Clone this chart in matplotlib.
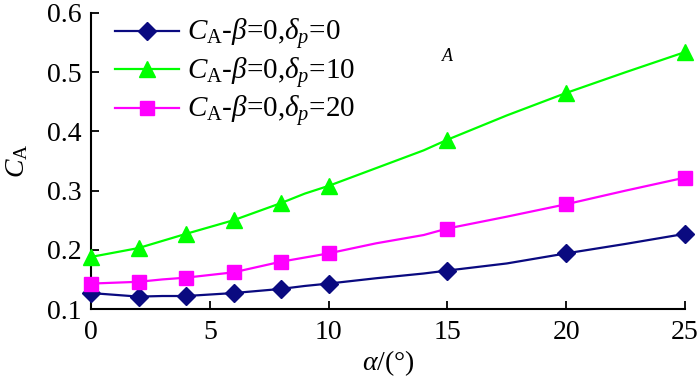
import numpy as np, matplotlib; matplotlib.use("Agg")
import matplotlib.pyplot as plt
plt.rcParams.update({"font.family":"Liberation Serif","font.size":20,
 "mathtext.fontset":"custom","mathtext.rm":"Liberation Serif",
 "mathtext.it":"Liberation Serif:italic","mathtext.bf":"Liberation Serif:bold",
 "axes.linewidth":1.5,"figure.facecolor":"white","axes.facecolor":"white"})

# alpha values along each curve, markers only at the measured angles
alpha = [0, 2, 3, 4, 6, 8, 9, 10, 12, 14, 15, 17.5, 20, 22.5, 25]
marked = [0, 2, 4, 6, 8, 10, 15, 20, 25]
ca_d0  = [0.127, 0.121, 0.122, 0.122, 0.127, 0.134, 0.139, 0.143, 0.152, 0.160, 0.165, 0.177, 0.194, 0.210, 0.227]
ca_d10 = [0.188, 0.203, 0.215, 0.227, 0.250, 0.279, 0.295, 0.308, 0.338, 0.368, 0.386, 0.427, 0.465, 0.500, 0.534]
ca_d20 = [0.143, 0.146, 0.150, 0.153, 0.162, 0.180, 0.187, 0.194, 0.211, 0.225, 0.236, 0.256, 0.277, 0.300, 0.322]
labels = [r"$C_{\mathrm{A}}$-$\beta$=0,$\delta_p$=0",
          r"$C_{\mathrm{A}}$-$\beta$=0,$\delta_p$=10",
          r"$C_{\mathrm{A}}$-$\beta$=0,$\delta_p$=20"]

fig,ax=plt.subplots(figsize=(7.0,3.82))
fig.subplots_adjust(left=0.13,right=0.9786,bottom=0.191,top=0.966)
mk=[i for i,a in enumerate(alpha) if a in marked]
ax.plot(alpha,ca_d0,'-',color='#0a0a80',lw=1.6,marker='D',ms=9,markevery=mk,label=labels[0],clip_on=False,zorder=5)
ax.plot(alpha,ca_d10,'-',color='#00ff00',lw=1.6,marker='^',ms=12,markevery=mk,label=labels[1],clip_on=False,zorder=5)
ax.plot(alpha,ca_d20,'-',color='#ff00ff',lw=1.6,marker='s',ms=9.5,markevery=mk,label=labels[2],clip_on=False,zorder=5)
ax.set_xlim(0,25); ax.set_ylim(0.1,0.6)
ax.set_xticks([0,5,10,15,20,25]); ax.set_yticks([0.1,0.2,0.3,0.4,0.5,0.6])
ax.set_yticklabels(["0.1","0.2","0.3","0.4","0.5","0.6"])
for s in ("top","right"): ax.spines[s].set_visible(False)
ax.tick_params(direction='in',length=6,width=1.3)
ax.tick_params(axis='x',pad=8); ax.tick_params(axis='y',pad=7)
ax.set_xlabel(r"$\alpha$/(°)",labelpad=2)
ax.set_ylabel(r"$C_{\mathrm{A}}$",labelpad=12)
ax.text(15.0,0.527,"A",fontsize=13,style='italic',ha='center',va='center')
ax.legend(loc='upper left',bbox_to_anchor=(0.02,1.025),frameon=False,handlelength=2.2,
          handletextpad=0.3,labelspacing=0.12,borderaxespad=0,fontsize=21)
fig.savefig("out.png",dpi=100)
